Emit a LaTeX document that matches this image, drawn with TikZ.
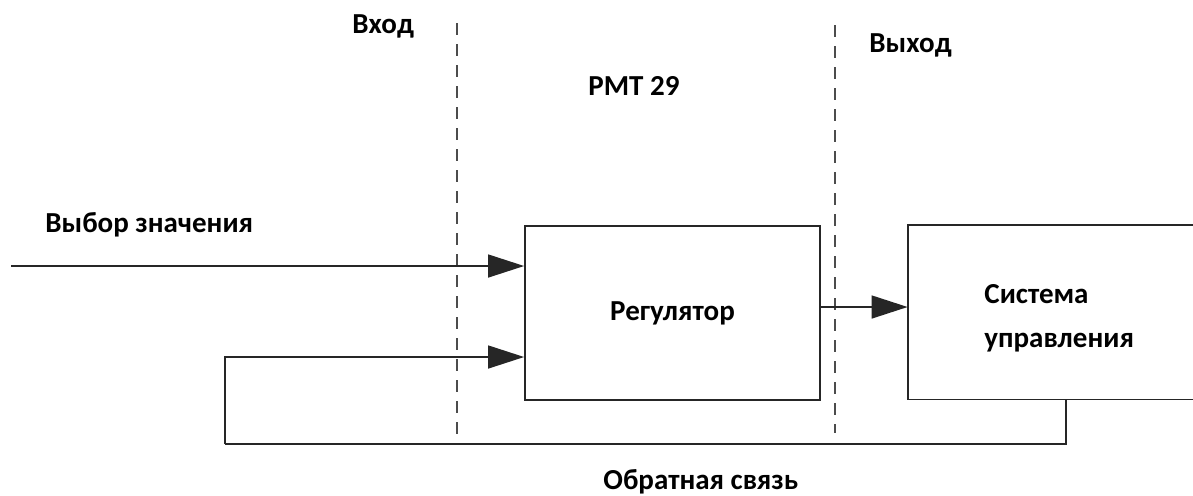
\documentclass[tikz,border=0pt]{standalone}
\usepackage{fontspec}
\setmainfont{Carlito}
\usetikzlibrary{positioning,arrows.meta,calc}
\newcommand{\lblfont}{\fontsize{14.5}{22}\selectfont\bfseries}
\tikzset{
  box/.style     ={draw=black!85, line width=0.9pt, inner sep=0pt,
                   font=\lblfont, align=center},
  open/.style    ={draw=black!85, line width=0.9pt},
  fl/.style      ={-{Triangle[length=18pt,width=11.5pt]}, line width=0.75pt, draw=black!85},
  fb/.style      ={line width=0.9pt, draw=black!85},
  divider/.style ={dash pattern=on 6pt off 4.5pt, line width=0.8pt, draw=black!70},
  lbl/.style     ={font=\lblfont, inner sep=0pt, align=left},
}

\begin{document}
\begin{tikzpicture}[x=0.5pt,y=-0.5pt]
  \useasboundingbox (0,0) rectangle (1193,495);

  % --- blocks ---------------------------------------------------------
  \node[box, minimum width=147.5pt, minimum height=87pt] (reg) at (672.5,313)
        {Регулятор};
  \node[inner sep=0pt, minimum width=142.5pt, minimum height=87pt] (sys) at (1050.5,312) {};
  \draw[open] (sys.north east) -- (sys.north west) -- (sys.south west) -- (sys.south east);
  \node[lbl, anchor=base west] (systxt) at (984,347) {Система\\управления};

  % --- zone borders ---------------------------------------------------
  \draw[divider] (457,23) -- (457,435);
  \draw[divider] (835,25) -- (835,433);

  % --- labels ---------------------------------------------------------
  \node[lbl, anchor=base west] (vhod)  at (352,33)  {Вход};
  \node[lbl, anchor=base west] (rmt)   at (588,95)  {РМТ 29};
  \node[lbl, anchor=base west] (vyhod) at (869,52)  {Выход};
  \node[lbl, anchor=base west] (vybor) at (45,232)  {Выбор значения};
  \node[lbl, anchor=base west] (obr)   at (603,489) {Обратная связь};

  % --- arrows ---------------------------------------------------------
  \coordinate (src) at (11,266);
  \coordinate (sysout) at ($(sys.south)+(15.5,0)$);
  \coordinate (fbcorner) at (225,444);
  \coordinate (regin) at ($(reg.west)+(0,44)$);
  \draw[fl] (src) -- (reg.west |- src);
  \draw[fl] ($(reg.east)+(0,-6)$) -- ($(sys.west)+(0,-5)$);
  \draw[fb] (sysout) |- (fbcorner);
  \draw[fl] (fbcorner) |- (regin);
\end{tikzpicture}
\end{document}
